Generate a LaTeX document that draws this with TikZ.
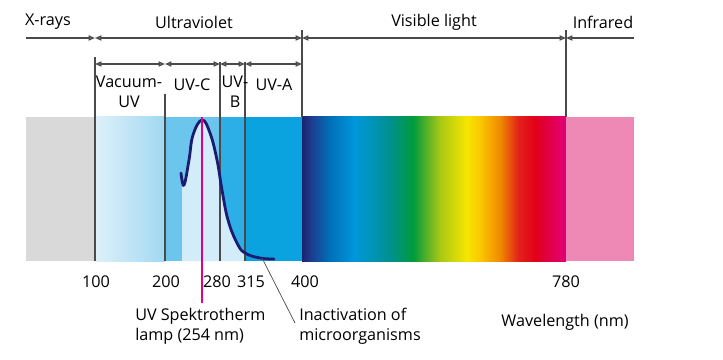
\documentclass[tikz,border=0pt]{standalone}
\usepackage{fontspec}
\setmainfont{Open Sans}
\usepackage{xcolor}
\usetikzlibrary{arrows.meta,positioning}

\definecolor{linegray}{HTML}{4A4A4A}
\definecolor{xraygray}{HTML}{D9D9DA}
\definecolor{vuvleft}{HTML}{DFF0FA}
\definecolor{vuvright}{HTML}{A0D8F2}
\definecolor{uvcblue}{HTML}{6CC5EC}
\definecolor{uvbblue}{HTML}{2CAFE6}
\definecolor{uvablue}{HTML}{0AA3DF}
\definecolor{lamplight}{HTML}{D3ECF9}
\definecolor{curvenavy}{HTML}{1B1B72}
\definecolor{lamppink}{HTML}{E4007C}
\definecolor{irpink}{HTML}{EE88B5}
% visible spectrum stops
\definecolor{vs0}{HTML}{1B2370}
\definecolor{vs1}{HTML}{1D3F8F}
\definecolor{vs2}{HTML}{0070B8}
\definecolor{vs3}{HTML}{0097DB}
\definecolor{vs4}{HTML}{00908F}
\definecolor{vs5}{HTML}{009A3C}
\definecolor{vs6}{HTML}{A8C814}
\definecolor{vs7}{HTML}{F7E600}
\definecolor{vs8}{HTML}{FBC800}
\definecolor{vs9}{HTML}{F08A00}
\definecolor{vs10}{HTML}{E2231A}
\definecolor{vs11}{HTML}{E2001A}
\definecolor{vs12}{HTML}{E0007A}
\pgfdeclarehorizontalshading{visiblespec}{100bp}{color(0bp)=(vs0); color(25bp)=(vs0);
  color(26.9bp)=(vs1); color(30.3bp)=(vs2); color(35bp)=(vs3); color(41.7bp)=(vs4);
  color(46bp)=(vs5); color(51.1bp)=(vs6); color(56.25bp)=(vs7); color(58.7bp)=(vs8);
  color(62.5bp)=(vs9); color(65.9bp)=(vs10); color(69.1bp)=(vs11); color(75bp)=(vs12);
  color(100bp)=(vs12)}

\begin{document}
\begin{tikzpicture}[x=0.025cm,y=-0.025cm,
  bound/.style={draw=linegray,line width=1pt},
  span/.style={bound,{Triangle[open,length=4.5pt,width=3.6pt]}-{Triangle[open,length=4.5pt,width=3.6pt]}},
  lbl/.style={font=\fontsize{11.5}{14}\selectfont,inner sep=0pt,text=black}]
\useasboundingbox (0,0) rectangle (723,360);

% spectrum bar
\fill[xraygray] (26,117) rectangle (94,261);
\shade[left color=vuvleft,right color=vuvright] (95,117) rectangle (165,261);
\fill[uvcblue] (165,117) rectangle (220,261);
\fill[uvbblue] (220,117) rectangle (245,261);
\fill[uvablue] (245,117) rectangle (302,261);
\shade[shading=visiblespec] (302,117) rectangle (566,261);
\fill[irpink] (566,117) rectangle (634,261);

% light area below the lamp curve
\begin{scope}
\clip (182,117) rectangle (245,261);
\fill[lamplight] (182,261) -- (182,185) -- plot[smooth,tension=0.7] coordinates {(184,185) (189,160) (193,135) (202,120) (210,133) (217,160) (222,190) (228,220) (237,243) (245,253) (260,258) (274,259)} -- (274,261) -- cycle;
\end{scope}

% range boundaries
\coordinate (r1a) at (26,38);
\coordinate (r1b) at (95,38);
\coordinate (r1c) at (302,38);
\coordinate (r1d) at (566,38);
\coordinate (r1e) at (634,38);
\coordinate (r2a) at (95,64);
\coordinate (r2b) at (165,64);
\coordinate (r2c) at (220,64);
\coordinate (r2d) at (245,64);
\coordinate (r2e) at (302,64);

\draw[bound,-{Triangle[open,length=4.5pt,width=3.6pt]}] (r1a) -- (r1b);
\draw[span] (r1b) -- (r1c);
\draw[span] (r1c) -- (r1d);
\draw[bound,{Triangle[open,length=4.5pt,width=3.6pt]}-] (r1d) -- (r1e);
\draw[span] (r2a) -- (r2b);
\draw[span] (r2b) -- (r2c);
\draw[span] (r2c) -- (r2d);
\draw[span] (r2d) -- (r2e);

\draw[bound] (95,57) -- (95,261);
\draw[bound] (165,94) -- (165,261);
\draw[bound] (220,62) -- (220,261);
\draw[bound] (245,62) -- (245,261);
\draw[bound] (302,30) -- (302,117);
\draw[bound] (566,30) -- (566,117);

% lamp emission curve
\draw[curvenavy,line width=2pt,line cap=round] plot[smooth,tension=0.7] coordinates {(181,173) (184,185) (189,160) (193,135) (202,120) (210,133) (217,160) (222,190) (228,220) (237,243) (245,253) (260,258) (274,259)};
\coordinate (peak) at (202,117);
\coordinate (lampend) at (202,303);
\draw[lamppink,line width=1.1pt] (peak) -- (lampend);
\coordinate (leadstart) at (262,258);
\coordinate (leadend) at (295,323);
\draw[linegray,line width=0.5pt] (leadstart) -- (leadend);

% top labels
\node[lbl] (xrays) at (48,22) {X-rays};
\node[lbl] (uv) at (194,22) {Ultraviolet};
\node[lbl] (vis) at (434,22) {Visible light};
\node[lbl] (ir) at (603,22) {Infrared};
\node[lbl,align=center,anchor=north] (vuv) at (129,76) {Vacuum-\\UV};
\node[lbl] (uvc) at (192,85) {UV-C};
\node[lbl,align=center,anchor=north] (uvb) at (235,76) {UV-\\B};
\node[lbl] (uva) at (274,85) {UV-A};

% wavelength ticks
\node[lbl] (n100) at (96,282) {100};
\node[lbl] (n200) at (166,282) {200};
\node[lbl] (n280) at (217,282) {280};
\node[lbl] (n315) at (251,282) {315};
\node[lbl] (n400) at (305,282) {400};
\node[lbl] (n780) at (566,282) {780};

% bottom notes
\node[lbl,align=left,anchor=north west] (lamp) at (135,308) {UV Spektrotherm\\lamp (254 nm)};
\node[lbl,align=left,anchor=north west] (inact) at (299,308) {Inactivation of\\microorganisms};
\node[lbl] (wave) at (565,322) {Wavelength (nm)};
\end{tikzpicture}
\end{document}
